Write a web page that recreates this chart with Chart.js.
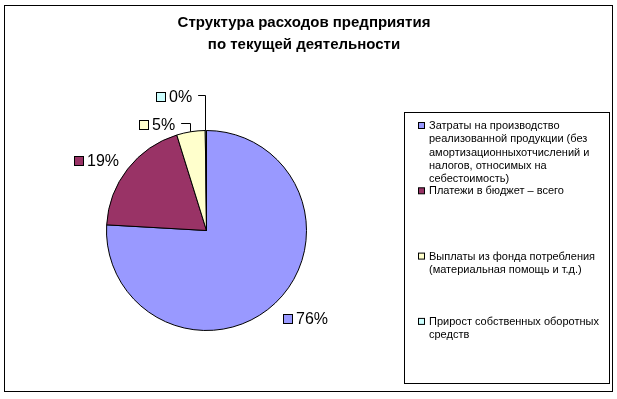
<!DOCTYPE html>
<html>
<head>
<meta charset="utf-8">
<script src="https://cdn.jsdelivr.net/npm/chart.js@4/dist/chart.umd.min.js"></script>
<style>
  html, body { margin: 0; padding: 0; background: #fff; }
  #wrap { width: 617px; height: 399px; }
</style>
</head>
<body>
<div id="wrap"><canvas id="pieChart" width="617" height="399"></canvas></div>
<script>
// chart data
const titleLines = ["Структура расходов предприятия", "по текущей деятельности"];
const categories = [
  ["Затраты на производство", "реализованной продукции (без", "амортизационныхотчислений и", "налогов, относимых на", "себестоимость)"],
  ["Платежи в бюджет – всего"],
  ["Выплаты из фонда потребления", "(материальная помощь и т.д.)"],
  ["Прирост собственных оборотных", "средств"]
];
const shares = [75.9, 19.3, 4.6, 0.2];
const sliceColors = ["#9999FF", "#993366", "#FFFFCC", "#CCFFFF"];

// where each percent label sits, relative to the pie centre (in radii)
const labelSpots = [
  { dx: 0.76, dy: 0.885, leader: false },
  { dx: -1.33, dy: -0.70, leader: false },
  { dx: -0.68, dy: -1.055, leader: true },
  { dx: -0.51, dy: -1.335, leader: true }
];

const FONT = "'Liberation Sans', Arial, sans-serif";

const framePlugin = {
  id: "frame",
  beforeDraw(chart) {
    const ctx = chart.ctx;
    ctx.save();
    ctx.fillStyle = "#fff";
    ctx.fillRect(0, 0, chart.width, chart.height);
    ctx.strokeStyle = "#000";
    ctx.lineWidth = 1;
    ctx.strokeRect(4.5, 5.5, 608, 386);
    ctx.strokeRect(404.5, 112.5, 205, 271);

    // title
    ctx.fillStyle = "#000";
    ctx.font = "bold 15px " + FONT;
    ctx.textAlign = "center";
    ctx.textBaseline = "middle";
    titleLines.forEach((t, i) => ctx.fillText(t, 304, 23 + i * 22));
    ctx.restore();
  },
  afterDraw(chart) {
    const ctx = chart.ctx;
    ctx.save();
    // legend
    ctx.font = "11px " + FONT;
    ctx.textAlign = "left";
    ctx.textBaseline = "middle";
    chart.data.labels.forEach((lines, i) => {
      const y = 126 + i * 65.3;
      ctx.fillStyle = sliceColors[i];
      ctx.fillRect(418.5, y - 3.5, 6, 6);
      ctx.strokeStyle = "#000";
      ctx.strokeRect(418.5, y - 3.5, 6, 6);
      ctx.fillStyle = "#000";
      lines.forEach((ln, j) => ctx.fillText(ln, 429, y + j * 13.3));
    });

    // percent labels
    const meta = chart.getDatasetMeta(0);
    const total = shares.reduce((a, b) => a + b, 0);
    ctx.font = "16px " + FONT;
    meta.data.forEach((arc, i) => {
      const r = arc.outerRadius;
      const spot = labelSpots[i];
      const x = Math.round(arc.x + spot.dx * r);
      const y = Math.round(arc.y + spot.dy * r);
      const txt = Math.round(shares[i] / total * 100) + "%";
      ctx.fillStyle = sliceColors[i];
      ctx.fillRect(x + 0.5, y - 4.5, 9, 9);
      ctx.strokeStyle = "#000";
      ctx.strokeRect(x + 0.5, y - 4.5, 9, 9);
      ctx.fillStyle = "#000";
      ctx.fillText(txt, x + 13, y + 1);
      if (spot.leader) {
        const mid = (arc.startAngle + arc.endAngle) / 2;
        const px = arc.x + Math.cos(mid) * r;
        const py = arc.y + Math.sin(mid) * r;
        const tx = x + 13 + ctx.measureText(txt).width + 6;
        const ly = y - 2;
        ctx.beginPath();
        ctx.moveTo(tx, ly + 0.5);
        ctx.lineTo(Math.round(px) - 0.5, ly + 0.5);
        ctx.lineTo(Math.round(px) - 0.5, py);
        ctx.strokeStyle = "#000";
        ctx.lineWidth = 1;
        ctx.stroke();
      }
    });
    ctx.restore();
  }
};

new Chart(document.getElementById("pieChart").getContext("2d"), {
  type: "pie",
  data: {
    labels: categories,
    datasets: [{
      data: shares,
      backgroundColor: sliceColors,
      borderColor: "#000",
      borderWidth: 1
    }]
  },
  options: {
    responsive: false,
    devicePixelRatio: 1,
    animation: false,
    layout: { padding: { left: 106, right: 310, top: 130, bottom: 68 } },
    plugins: {
      legend: { display: false },
      title: { display: false },
      tooltip: { enabled: false }
    }
  },
  plugins: [framePlugin]
});
</script>
</body>
</html>
